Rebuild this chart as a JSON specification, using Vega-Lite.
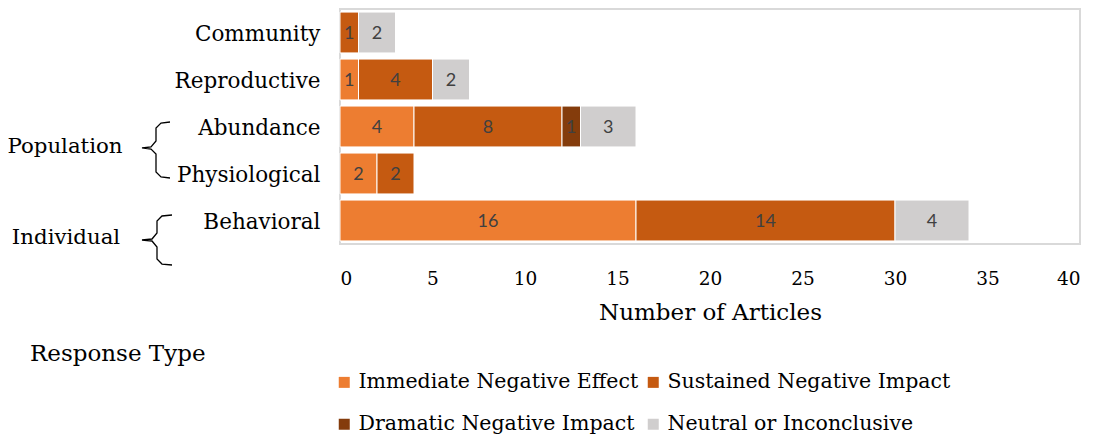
{
  "$schema": "https://vega.github.io/schema/vega-lite/v6.json",
  "width": 740,
  "height": 235,
  "autosize": {"type": "none"},
  "padding": {"left": 340, "top": 9, "right": 17, "bottom": 193},
  "background": "white",
  "config": {"view": {"stroke": "#d9d9d9", "strokeWidth": 2}},
  "datasets": {
    "bars": [
      {"category": "Community", "type": "Sustained Negative Impact", "value": 1, "order": 2},
      {"category": "Community", "type": "Neutral or Inconclusive", "value": 2, "order": 4},
      {"category": "Reproductive", "type": "Immediate Negative Effect", "value": 1, "order": 1},
      {"category": "Reproductive", "type": "Sustained Negative Impact", "value": 4, "order": 2},
      {"category": "Reproductive", "type": "Neutral or Inconclusive", "value": 2, "order": 4},
      {"category": "Abundance", "type": "Immediate Negative Effect", "value": 4, "order": 1},
      {"category": "Abundance", "type": "Sustained Negative Impact", "value": 8, "order": 2},
      {"category": "Abundance", "type": "Dramatic Negative Impact", "value": 1, "order": 3},
      {"category": "Abundance", "type": "Neutral or Inconclusive", "value": 3, "order": 4},
      {"category": "Physiological", "type": "Immediate Negative Effect", "value": 2, "order": 1},
      {"category": "Physiological", "type": "Sustained Negative Impact", "value": 2, "order": 2},
      {"category": "Behavioral", "type": "Immediate Negative Effect", "value": 16, "order": 1},
      {"category": "Behavioral", "type": "Sustained Negative Impact", "value": 14, "order": 2},
      {"category": "Behavioral", "type": "Neutral or Inconclusive", "value": 4, "order": 4}
    ],
    "braces": [
      {"g": "Population", "i": 1, "bx": -9.189, "by": 2.404},
      {"g": "Population", "i": 2, "bx": -9.676, "by": 2.426},
      {"g": "Population", "i": 3, "bx": -9.946, "by": 2.532},
      {"g": "Population", "i": 4, "bx": -9.946, "by": 2.809},
      {"g": "Population", "i": 5, "bx": -10.216, "by": 2.936},
      {"g": "Population", "i": 6, "bx": -10.703, "by": 2.957},
      {"g": "Population", "i": 7, "bx": -10.216, "by": 2.979},
      {"g": "Population", "i": 8, "bx": -9.946, "by": 3.085},
      {"g": "Population", "i": 9, "bx": -9.946, "by": 3.468},
      {"g": "Population", "i": 10, "bx": -9.676, "by": 3.574},
      {"g": "Population", "i": 11, "bx": -9.189, "by": 3.596},
      {"g": "Individual", "i": 1, "bx": -9.081, "by": 4.383},
      {"g": "Individual", "i": 2, "bx": -9.622, "by": 4.404},
      {"g": "Individual", "i": 3, "bx": -9.892, "by": 4.511},
      {"g": "Individual", "i": 4, "bx": -9.892, "by": 4.766},
      {"g": "Individual", "i": 5, "bx": -10.162, "by": 4.894},
      {"g": "Individual", "i": 6, "bx": -10.703, "by": 4.915},
      {"g": "Individual", "i": 7, "bx": -10.162, "by": 4.936},
      {"g": "Individual", "i": 8, "bx": -9.892, "by": 5.064},
      {"g": "Individual", "i": 9, "bx": -9.892, "by": 5.319},
      {"g": "Individual", "i": 10, "bx": -9.622, "by": 5.426},
      {"g": "Individual", "i": 11, "bx": -9.081, "by": 5.447}
    ],
    "notes": [
      {"label": "Population", "tx": -14.865, "ty": 2.935},
      {"label": "Individual", "tx": -14.81, "ty": 4.871}
    ],
    "legendTitle": [
      {"label": "Response Type", "tx": -16.757, "ty": 7.339}
    ]
  },
  "resolve": {"scale": {"y": "independent"}},
  "layer": [
    {
      "data": {"name": "bars"},
      "transform": [
        {"stack": "value", "groupby": ["category"], "sort": [{"field": "order"}], "as": ["x0", "x1"]},
        {"calculate": "(datum.x0 + datum.x1) / 2", "as": "xm"}
      ],
      "encoding": {
        "y": {
          "field": "category",
          "type": "nominal",
          "sort": ["Community", "Reproductive", "Abundance", "Physiological", "Behavioral"],
          "scale": {"paddingInner": 0.13, "paddingOuter": 0.065},
          "axis": {
            "title": null,
            "domain": false,
            "ticks": false,
            "labelPadding": 20,
            "labelOffset": 2,
            "labelFont": "DejaVu Serif",
            "labelFontSize": 21.5,
            "labelColor": "#000000"
          }
        }
      },
      "layer": [
        {
          "mark": {"type": "bar", "stroke": "white", "strokeWidth": 1},
          "encoding": {
            "x": {
              "field": "x0",
              "type": "quantitative",
              "scale": {"domain": [0, 40], "nice": false},
              "axis": {
                "title": "Number of Articles",
                "values": [0, 5, 10, 15, 20, 25, 30, 35, 40],
                "grid": false,
                "domain": false,
                "ticks": false,
                "labelPadding": 25,
                "labelFont": "DejaVu Serif",
                "labelFontSize": 18.5,
                "labelColor": "#000000",
                "titleFont": "DejaVu Serif",
                "titleFontSize": 23,
                "titleFontWeight": "normal",
                "titleColor": "#000000",
                "titlePadding": 14
              }
            },
            "x2": {"field": "x1"},
            "color": {
              "field": "type",
              "type": "nominal",
              "scale": {
                "domain": ["Immediate Negative Effect", "Sustained Negative Impact", "Dramatic Negative Impact", "Neutral or Inconclusive"],
                "range": ["#ED7D31", "#C55A11", "#843C0C", "#D0CECE"]
              },
              "legend": {
                "title": null,
                "orient": "none",
                "legendX": -6,
                "legendY": 363,
                "direction": "horizontal",
                "columns": 2,
                "symbolType": "square",
                "symbolSize": 121,
                "symbolStrokeWidth": 0,
                "labelFont": "DejaVu Serif",
                "labelFontSize": 20.5,
                "labelColor": "#000000",
                "labelOffset": 4,
                "rowPadding": 21,
                "columnPadding": 4,
                "labelLimit": 400
              }
            }
          }
        },
        {
          "mark": {"type": "text", "font": "Lato", "fontSize": 18, "color": "#404040", "align": "center", "baseline": "middle", "dy": 1}, 
          "encoding": {
            "x": {"field": "xm", "type": "quantitative", "scale": {"domain": [0, 40], "nice": false}},
            "text": {"field": "value", "type": "quantitative"}
          }
        }
      ]
    },
    {
      "data": {"name": "braces"},
      "mark": {"type": "line", "color": "#000000", "strokeWidth": 1.3},
      "encoding": {
        "x": {"field": "bx", "type": "quantitative", "scale": {"domain": [0, 40], "nice": false}},
        "y": {"field": "by", "type": "quantitative", "scale": {"domain": [0, 5], "reverse": true, "nice": false, "zero": false}, "axis": null},
        "detail": {"field": "g"},
        "order": {"field": "i"}
      }
    },
    {
      "data": {"name": "notes"},
      "mark": {"type": "text", "font": "DejaVu Serif", "fontSize": 21.3, "color": "#000000", "align": "center", "baseline": "middle"},
      "encoding": {
        "x": {"field": "tx", "type": "quantitative", "scale": {"domain": [0, 40], "nice": false}},
        "y": {"field": "ty", "type": "quantitative", "scale": {"domain": [0, 5], "reverse": true, "nice": false, "zero": false}, "axis": null},
        "text": {"field": "label"}
      }
    },
    {
      "data": {"name": "legendTitle"},
      "mark": {"type": "text", "font": "DejaVu Serif", "fontSize": 23, "color": "#000000", "align": "left", "baseline": "middle"},
      "encoding": {
        "x": {"field": "tx", "type": "quantitative", "scale": {"domain": [0, 40], "nice": false}},
        "y": {"field": "ty", "type": "quantitative", "scale": {"domain": [0, 5], "reverse": true, "nice": false, "zero": false}, "axis": null},
        "text": {"field": "label"}
      }
    }
  ]
}
